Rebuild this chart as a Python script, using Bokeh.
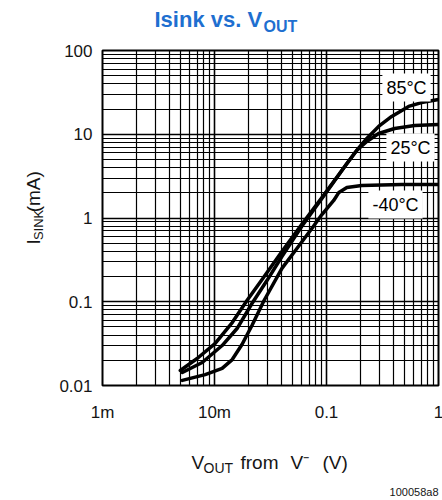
import math
from bokeh.plotting import figure
from bokeh.layouts import column, row
from bokeh.models import FixedTicker, Label, Range1d
from bokeh.embed import file_html
from bokeh.resources import INLINE

# ---- data ----
x_ticks = [0.001, 0.01, 0.1, 1]
x_tick_labels = ["1m", "10m", "0.1", "1"]
y_ticks = [0.01, 0.1, 1, 10, 100]
y_tick_labels = ["0.01", "0.1", "1", "10", "100"]

vout_85 = [0.00495, 0.0070, 0.0101, 0.0144, 0.0195, 0.0266, 0.040, 0.060, 0.091,
           0.137, 0.186, 0.229, 0.292, 0.382, 0.541, 0.706, 1.0]
isink_85 = [0.0151, 0.021, 0.0317, 0.0565, 0.1035, 0.184, 0.398, 0.836, 1.76,
            3.69, 6.4, 8.9, 12.4, 16.3, 21.5, 23.9, 26.0]

vout_25 = [0.00516, 0.00777, 0.0117, 0.0159, 0.0216, 0.0294, 0.040, 0.060, 0.091,
           0.124, 0.152, 0.186, 0.229, 0.292, 0.406, 0.612, 1.0]
isink_25 = [0.0143, 0.0188, 0.0300, 0.0479, 0.0953, 0.179, 0.347, 0.792, 1.71,
            3.05, 4.47, 6.40, 8.19, 10.2, 11.7, 12.7, 13.1]

vout_m40 = [0.00516, 0.00826, 0.0117, 0.0144, 0.0176, 0.0216, 0.0277, 0.040, 0.0544,
            0.074, 0.091, 0.116, 0.129, 0.152, 0.206, 0.469, 1.0]
isink_m40 = [0.0115, 0.0135, 0.0160, 0.0204, 0.0309, 0.0521, 0.1035, 0.250, 0.432,
             0.749, 1.10, 1.62, 2.02, 2.31, 2.44, 2.51, 2.51]

series_labels = ["85°C", "25°C", "-40°C"]

FONT = "Liberation Sans"
TXT = "#151515"

# ---------- layout sizes ----------
W_YLAB = 56
TOP_H = 38
MAIN_BORDER_L, FRAME_W, BORDER_R = 44, 336, 6
BORDER_T, FRAME_H, BORDER_B = 12, 335, 40
MAIN_W = MAIN_BORDER_L + FRAME_W + BORDER_R
MAIN_H = BORDER_T + FRAME_H + BORDER_B
TOTAL_W = W_YLAB + MAIN_W
BOT_H = 498 - TOP_H - MAIN_H


def text_fig(w, h):
    f = figure(width=w, height=h, x_range=Range1d(0, w), y_range=Range1d(h, 0),
               min_border=0, x_axis_location=None, y_axis_location=None, title=None,
               output_backend="svg", toolbar_location=None,
               background_fill_color="white", border_fill_color="white")
    f.outline_line_color = None
    f.grid.visible = False
    return f


# ---------- main chart ----------
p = figure(x_axis_type="log", y_axis_type="log", title=None,
           x_range=Range1d(0.001, 1), y_range=Range1d(0.01, 100),
           frame_width=FRAME_W, frame_height=FRAME_H,
           min_border_left=MAIN_BORDER_L, min_border_top=BORDER_T,
           min_border_right=BORDER_R, min_border_bottom=BORDER_B,
           output_backend="svg", toolbar_location=None,
           background_fill_color="white", border_fill_color="white")

minor_x = [k * 10.0 ** e for e in range(-3, 0) for k in range(2, 10)]
minor_y = [k * 10.0 ** e for e in range(-2, 2) for k in range(2, 10)]
p.xaxis.ticker = FixedTicker(ticks=x_ticks, minor_ticks=minor_x)
p.yaxis.ticker = FixedTicker(ticks=y_ticks, minor_ticks=minor_y)
p.xaxis.major_label_overrides = dict(zip(x_ticks, x_tick_labels))
p.yaxis.major_label_overrides = dict(zip(y_ticks, y_tick_labels))

for ax in (p.xaxis, p.yaxis):
    ax.axis_line_color = None
    ax.major_tick_line_color = None
    ax.minor_tick_line_color = None
    ax.major_tick_out = 0
    ax.major_tick_in = 0
    ax.minor_tick_out = 0
    ax.minor_tick_in = 0
    ax.major_label_text_font = FONT
    ax.major_label_text_font_size = "17px"
    ax.major_label_text_color = TXT
p.xaxis.major_label_standoff = 17
p.yaxis.major_label_standoff = 10

p.xgrid.grid_line_color = "black"
p.ygrid.grid_line_color = "black"
p.xgrid.grid_line_width = 1.6
p.ygrid.grid_line_width = 1.6
p.xgrid.minor_grid_line_color = "black"
p.ygrid.minor_grid_line_color = "black"
p.xgrid.minor_grid_line_width = 1.2
p.ygrid.minor_grid_line_width = 1.2
p.outline_line_color = "black"
p.outline_line_width = 2

for xs, ys in ((vout_85, isink_85), (vout_25, isink_25), (vout_m40, isink_m40)):
    p.line(xs, ys, line_color="black", line_width=3.5, line_join="round", line_cap="round")

# curve labels (white boxes), positions in frame screen units
FX0, FY0 = 100, 385  # page position of frame bottom-left
for txt, cx, cy in zip(series_labels, (404, 408, 393), (87, 147, 204)):
    p.add_layout(Label(x=cx - FX0, y=FY0 - cy, x_units="screen", y_units="screen", text=txt,
                       text_align="center", text_baseline="middle",
                       text_font=FONT, text_font_size="18px", text_color="black",
                       background_fill_color="white", border_line_color=None, padding=4))

# ---------- title strip ----------
t = text_fig(TOTAL_W, TOP_H)
BLUE = "#1E6FD0"
t.add_layout(Label(x=154, y=19, text="Isink vs. V", text_font=FONT, text_font_size="22px",
                   text_font_style="bold", text_color=BLUE, text_baseline="middle"))
t.add_layout(Label(x=263, y=26, text="OUT", text_font=FONT, text_font_size="16px",
                   text_font_style="bold", text_color=BLUE, text_baseline="middle"))

# ---------- y label strip ----------
yl = text_fig(W_YLAB, MAIN_H)
yoff = TOP_H
RL = dict(angle=math.pi / 2, text_font=FONT, text_color=TXT, text_baseline="alphabetic")
yl.add_layout(Label(x=33, y=262 - yoff, text="I", text_font_size="19px", **RL))
yl.add_layout(Label(x=38, y=257 - yoff, text="SINK", text_font_size="13px", **RL))
yl.add_layout(Label(x=33, y=225 - yoff, text="(mA)", text_font_size="19px", **RL))

# ---------- x label strip ----------
xl = text_fig(TOTAL_W, BOT_H)
boff = TOP_H + MAIN_H
XL = dict(text_font=FONT, text_color=TXT, text_baseline="alphabetic")
xl.add_layout(Label(x=191, y=462 - boff, text="V", text_font_size="19px", **XL))
xl.add_layout(Label(x=203, y=467 - boff, text="OUT", text_font_size="14px", **XL))
xl.add_layout(Label(x=240, y=462 - boff, text="from", text_font_size="19px", **XL))
xl.add_layout(Label(x=290, y=462 - boff, text="V\u207b", text_font_size="19px", **XL))
xl.add_layout(Label(x=322, y=462 - boff, text="(V)", text_font_size="19px", **XL))
xl.add_layout(Label(x=438, y=491 - boff, text="100058a8", text_font=FONT, text_font_size="11px",
                    text_color=TXT, text_align="right", text_baseline="alphabetic"))

layout = column(t, row(yl, p, spacing=0), xl, spacing=0)

open("out.html", "w").write(file_html(layout, INLINE))
